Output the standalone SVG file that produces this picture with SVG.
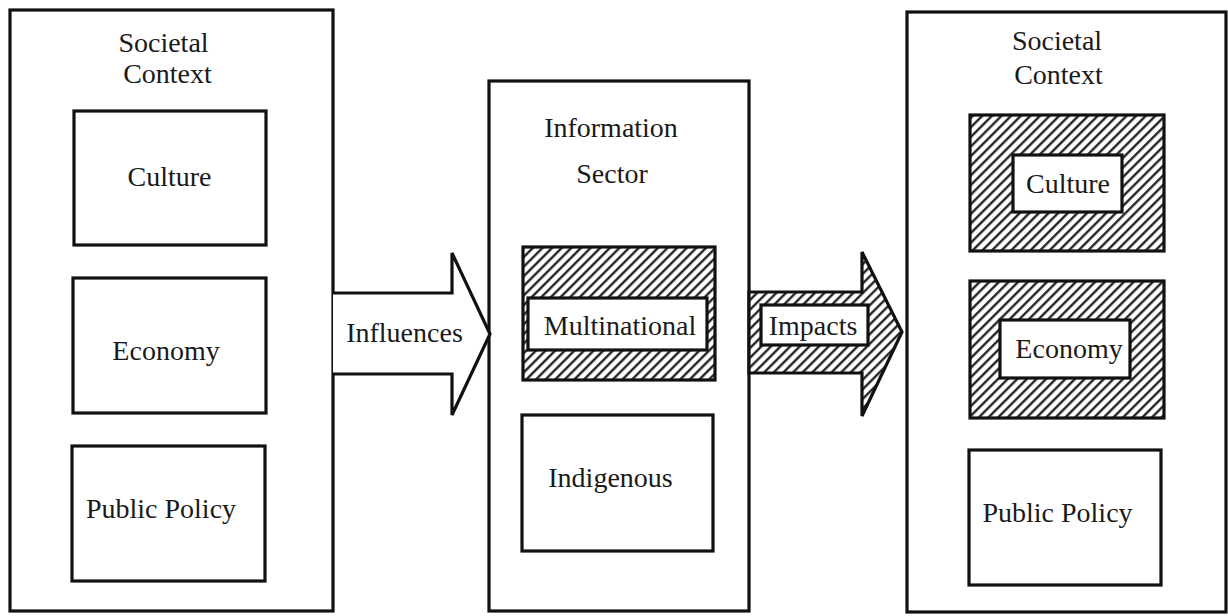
<svg xmlns="http://www.w3.org/2000/svg" width="1228" height="616" viewBox="0 0 1228 616">
  <style>
    .box { fill: #fff; stroke: #111; stroke-width: 3.2; }
    .hatch { fill: url(#diag); stroke: #111; stroke-width: 3.2; }
    .lbl { font-family: "Liberation Serif", "Times New Roman", serif; font-size: 28px; fill: #1a1a1a; text-anchor: middle; }
  </style>
  <defs>
    <!-- diagonal "/" hatching used for impacted elements -->
    <pattern id="diag" width="6.8" height="6.8" patternUnits="userSpaceOnUse" patternTransform="rotate(45)">
      <rect width="6.8" height="6.8" fill="#fff"/>
      <line x1="1.3" y1="0" x2="1.3" y2="6.8" stroke="#111" stroke-width="2.2"/>
    </pattern>
  </defs>

  <rect width="1228" height="616" fill="#fff"/>

  <!-- left panel: societal context -->
  <g id="societal-context-left">
    <rect class="box" x="10" y="10" width="323" height="601"/>
    <text class="lbl" x="163.5" y="52">Societal</text>
    <text class="lbl" x="167.5" y="83">Context</text>
  </g>
  <g id="culture-left">
    <rect class="box" x="74" y="111" width="192" height="134"/>
    <text class="lbl" x="169.5" y="186">Culture</text>
  </g>
  <g id="economy-left">
    <rect class="box" x="73" y="278" width="193" height="135"/>
    <text class="lbl" x="166" y="360">Economy</text>
  </g>
  <g id="public-policy-left">
    <rect class="box" x="72" y="446" width="193" height="135"/>
    <text class="lbl" x="161" y="518">Public Policy</text>
  </g>

  <!-- middle panel: information sector -->
  <g id="information-sector">
    <rect class="box" x="489" y="81" width="260" height="530"/>
    <text class="lbl" x="611" y="137">Information</text>
    <text class="lbl" x="612" y="183">Sector</text>
  </g>
  <g id="multinational">
    <rect class="hatch" x="523" y="247" width="192" height="133"/>
    <rect class="box" x="528" y="298" width="179" height="52"/>
    <text class="lbl" x="620" y="335">Multinational</text>
  </g>
  <g id="indigenous">
    <rect class="box" x="522" y="415" width="191" height="136"/>
    <text class="lbl" x="610.5" y="487">Indigenous</text>
  </g>

  <!-- right panel: societal context after impact -->
  <g id="societal-context-right">
    <rect class="box" x="907" y="12" width="319" height="600"/>
    <text class="lbl" x="1057" y="50">Societal</text>
    <text class="lbl" x="1058.5" y="84">Context</text>
  </g>
  <g id="culture-right">
    <rect class="hatch" x="970" y="115" width="194" height="136"/>
    <rect class="box" x="1013" y="155" width="109" height="57"/>
    <text class="lbl" x="1068" y="193">Culture</text>
  </g>
  <g id="economy-right">
    <rect class="hatch" x="970" y="281" width="194" height="137"/>
    <rect class="box" x="1000" y="320" width="130" height="58"/>
    <text class="lbl" x="1069" y="358">Economy</text>
  </g>
  <g id="public-policy-right">
    <rect class="box" x="969" y="450" width="192" height="135"/>
    <text class="lbl" x="1057.5" y="522">Public Policy</text>
  </g>

  <!-- block arrows between panels -->
  <g id="connectors">
    <g id="influences">
      <path class="box" d="M333,293 L452,293 L452,253 L490,334 L452,415 L452,374 L333,374"/>
      <text class="lbl" x="404.5" y="342">Influences</text>
    </g>
    <g id="impacts">
      <path class="hatch" d="M749,292 L862,292 L862,252 L902,332 L862,416 L862,373 L749,373 Z"/>
      <rect class="box" x="761" y="305" width="107" height="40"/>
      <text class="lbl" x="813" y="335">Impacts</text>
    </g>
  </g>
</svg>
